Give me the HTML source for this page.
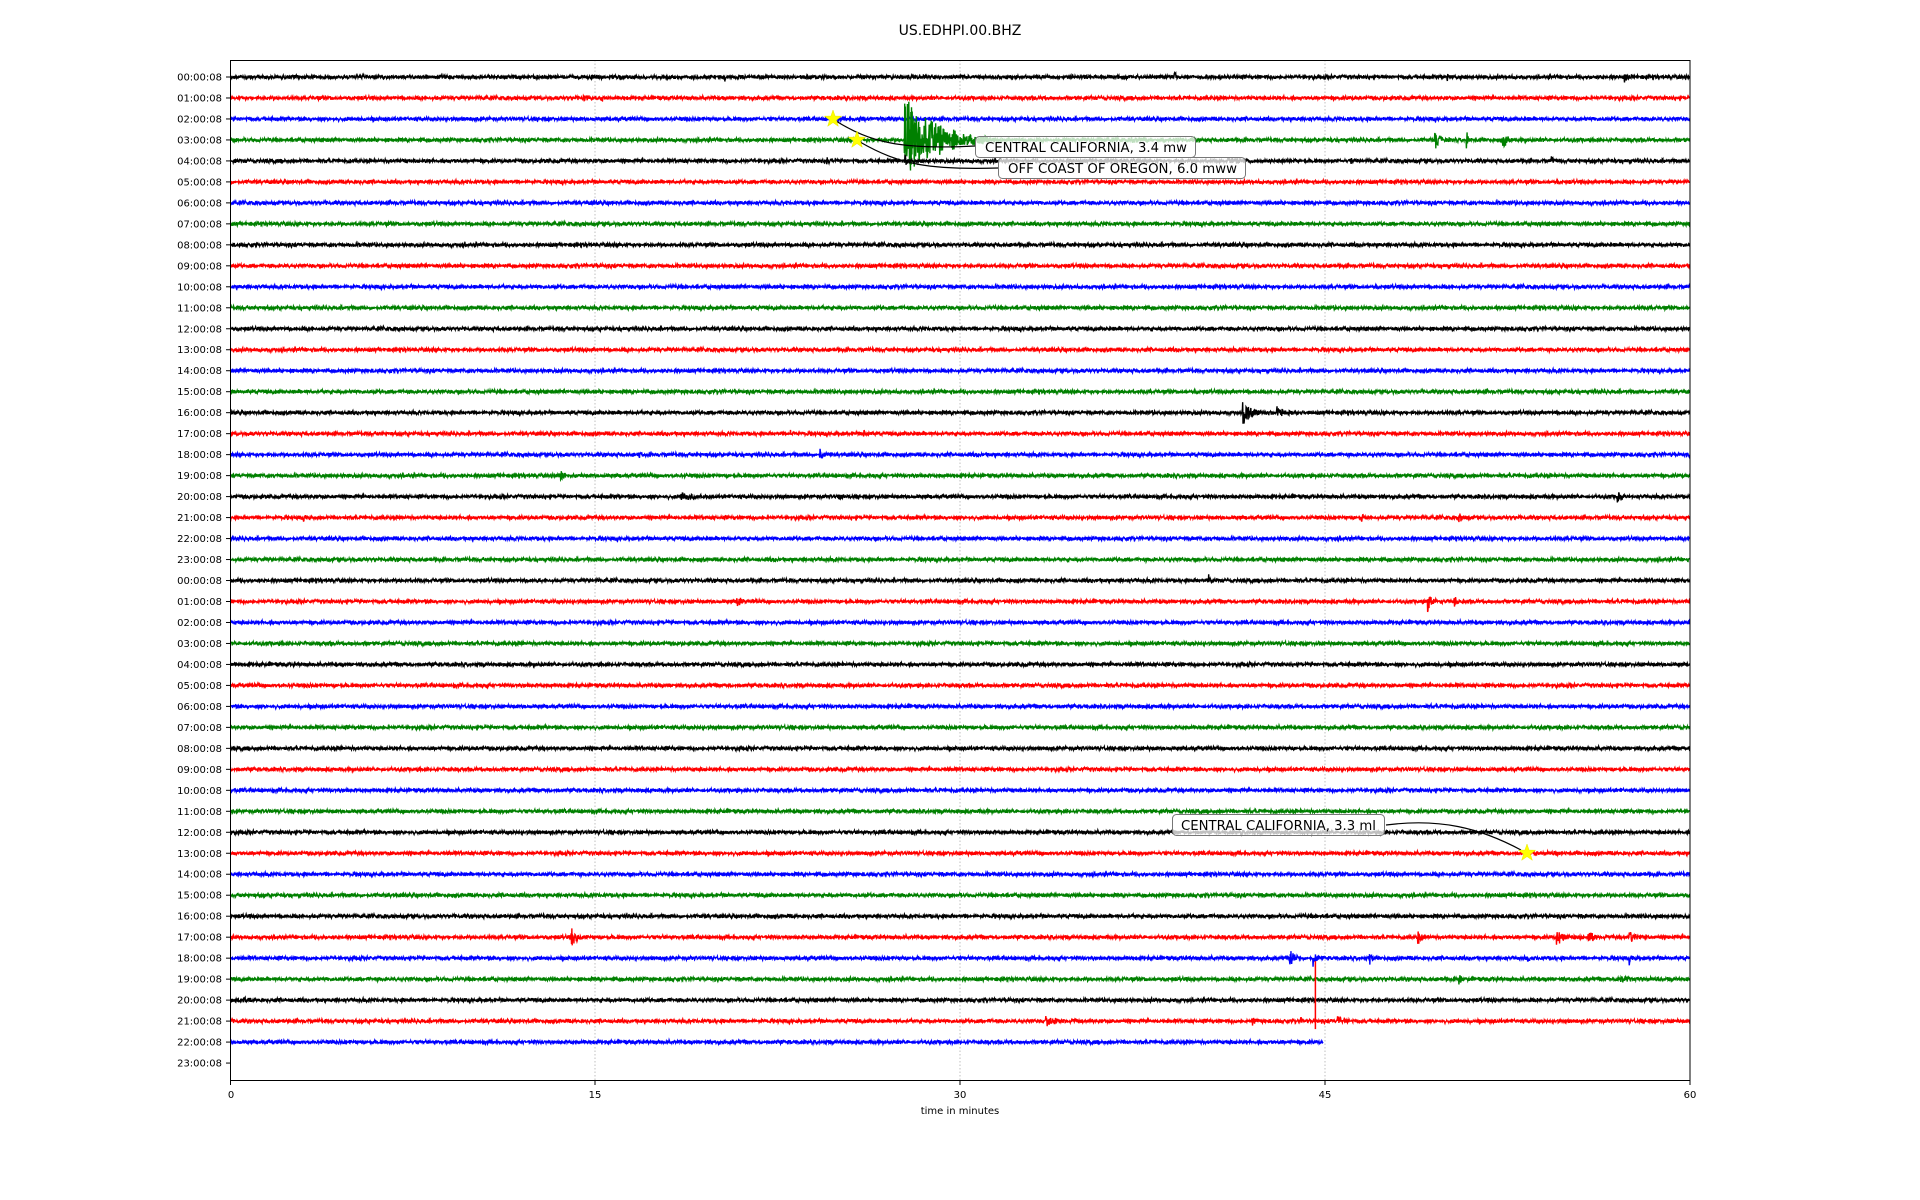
<!DOCTYPE html>
<html><head><meta charset="utf-8"><style>
html,body{margin:0;padding:0;background:#fff;}
svg{display:block;font-family:"DejaVu Sans","Liberation Sans",sans-serif;}
</style></head><body>
<svg id="s" width="1920" height="1200" viewBox="0 0 1920 1200" xmlns="http://www.w3.org/2000/svg">
<rect width="1920" height="1200" fill="#fff"/>
<text x="960" y="35" font-size="14" text-anchor="middle" fill="#000">US.EDHPI.00.BHZ</text>
<g stroke="#b0b0b0" stroke-width="0.8" stroke-dasharray="1.5,2">
<line x1="595" y1="60" x2="595" y2="1080"/><line x1="960" y1="60" x2="960" y2="1080"/><line x1="1325" y1="60" x2="1325" y2="1080"/>
</g>
<g id="traces"></g>
<g id="ylab" font-size="10" text-anchor="end" fill="#000"></g>
<rect x="230.5" y="60.5" width="1459.5" height="1020" fill="none" stroke="#000" stroke-width="1"/>
<g stroke="#000" stroke-width="1">
<line x1="230.5" y1="1080" x2="230.5" y2="1085"/><line x1="595" y1="1080" x2="595" y2="1085"/><line x1="960" y1="1080" x2="960" y2="1085"/><line x1="1325" y1="1080" x2="1325" y2="1085"/><line x1="1690" y1="1080" x2="1690" y2="1085"/>
</g>
<g font-size="10" text-anchor="middle" fill="#000">
<text x="231" y="1098">0</text><text x="595" y="1098">15</text><text x="960" y="1098">30</text><text x="1325" y="1098">45</text><text x="1690" y="1098">60</text>
<text x="960" y="1114">time in minutes</text>
</g>
<g fill="none" stroke="#000" stroke-width="1.2">
<path d="M836,121 C870,142 900,150 975,146"/>
<path d="M860,142 C900,165 930,170 998,168"/>
<path d="M1386,825 C1440,818 1480,828 1521,850"/>
</g>
<g font-size="13.5" fill="#000">
<rect x="975.5" y="136.5" width="220" height="21" rx="4" fill="rgba(255,255,255,0.75)" stroke="#777"/>
<text x="985" y="152" textLength="202" lengthAdjust="spacingAndGlyphs">CENTRAL CALIFORNIA, 3.4 mw</text>
<rect x="998.5" y="157.5" width="247" height="21" rx="4" fill="rgba(255,255,255,0.75)" stroke="#777"/>
<text x="1008" y="173" textLength="229" lengthAdjust="spacingAndGlyphs">OFF COAST OF OREGON, 6.0 mww</text>
<rect x="1172.5" y="814.5" width="212" height="21" rx="4" fill="rgba(255,255,255,0.75)" stroke="#777"/>
<text x="1181" y="830" textLength="195" lengthAdjust="spacingAndGlyphs">CENTRAL CALIFORNIA, 3.3 ml</text>
</g>
<g id="stars" fill="#ffff00" stroke="#e8e800" stroke-width="0.5"></g>
</svg>
<script>
(function(){
var ns="http://www.w3.org/2000/svg";
var seed=12345;function rnd(){seed=(seed*1103515245+12345)&0x7fffffff;return seed/0x7fffffff;}
function g(){return (rnd()+rnd()-1)*2.2;}
var cols=["#000","#f00","#00f","#008000"];
var X0=230.5,X1=1690,Y0=77,DY=20.98;
function mx(m){return X0+m*(X1-X0)/60;}
var ev=[[0,20.3,10,0.15],[0,38.8,7,0.3],[0,47.3,7,0.3],[0,50,6,0.3],[0,57.3,7,0.3],
[1,14.5,6,0.6],[1,15.2,5,0.5],[2,25.8,4,1.2],
[3,27.7,46,3.5],[3,49.5,14,0.5],[3,50.8,16,0.2],[3,52.3,10,0.6],[3,37,4,2],
[4,24.5,6,0.3],[4,27.7,14,0.2],[4,46,6,0.4],[4,54.3,7,0.3],[4,41,4,3],
[16,41.6,16,1],[16,43,7,1.5],[17,26,6,0.3],[17,23,5,0.3],[18,16.8,9,0.2],[18,24.2,7,0.6],
[19,13.5,8,0.8],[20,18.5,8,1.2],[20,25,7,0.5],[20,57,7,0.6],
[21,3,7,0.3],[21,46.5,7,0.3],[21,50.5,7,0.4],[24,40.2,8,0.3],[24,12.5,6,0.4],
[25,20.8,7,0.8],[25,49.2,14,0.6],[25,50.3,7,0.4],[37,53.5,4,1],
[41,14,13,0.6],[41,48.8,10,0.5],[41,54.5,10,1],[41,55.8,9,0.8],[41,57.5,8,0.8],
[42,43.5,17,0.5],[42,44.5,10,0.4],[42,46.8,10,0.3],[42,53.3,8,0.3],[42,57.5,8,0.3],
[43,50.5,8,0.3],[43,57,5,2],[44,0.5,7,0.3],[45,33.5,7,1.5],[45,42,7,0.4],[45,45.5,9,0.5],[45,44,6,0.4]];
var tr=document.getElementById("traces");
for(var r=0;r<47;r++){
 var y=Y0+r*DY,xe=(r==46)?1323:X1;var pts=[];
 var mine=ev.filter(function(e){return e[0]==r;});
 for(var x=X0;x<=xe;x+=0.34){
  var m=(x-X0)*60/(X1-X0),a=1;
  for(var i=0;i<mine.length;i++){var e=mine[i];var d=m-e[1];
   if(d>=0&&d<e[3]){a=Math.max(a,e[2]*Math.exp(-2.5*d/e[3])*(0.6+rnd()*0.4));}}
  var v=(a>1.5)?(rnd()*2-1)*a:g();
  pts.push(x.toFixed(2)+","+(y+v).toFixed(1));
 }
 var p=document.createElementNS(ns,"polyline");
 p.setAttribute("points",pts.join(" "));p.setAttribute("fill","none");
 p.setAttribute("stroke",cols[r%4]);p.setAttribute("stroke-width","1.4");
 tr.appendChild(p);
 if(r==45){var l=document.createElementNS(ns,"line");l.setAttribute("x1",mx(44.6));l.setAttribute("x2",mx(44.6));
  l.setAttribute("y1",y-60);l.setAttribute("y2",y+8);l.setAttribute("stroke","#f00");l.setAttribute("stroke-width","1.5");tr.appendChild(l);}
}
var yl=document.getElementById("ylab");
for(var r=0;r<48;r++){var y=Y0+r*DY;var h=r%24;
 var t=document.createElementNS(ns,"text");t.setAttribute("x",222);t.setAttribute("y",y+3.5);
 t.textContent=(h<10?"0":"")+h+":00:08";yl.appendChild(t);
 var k=document.createElementNS(ns,"line");k.setAttribute("x1",226);k.setAttribute("x2",230.5);
 k.setAttribute("y1",y);k.setAttribute("y2",y);k.setAttribute("stroke","#000");yl.appendChild(k);}
var st=document.getElementById("stars");
[[833,119],[857,140],[1527,853]].forEach(function(c){var pts=[];
 for(var i=0;i<10;i++){var rr=i%2?3.6:9,an=-Math.PI/2+i*Math.PI/5;pts.push((c[0]+rr*Math.cos(an)).toFixed(1)+","+(c[1]+rr*Math.sin(an)).toFixed(1));}
 var p=document.createElementNS(ns,"polygon");p.setAttribute("points",pts.join(" "));st.appendChild(p);});
})();
</script>
</body></html>
